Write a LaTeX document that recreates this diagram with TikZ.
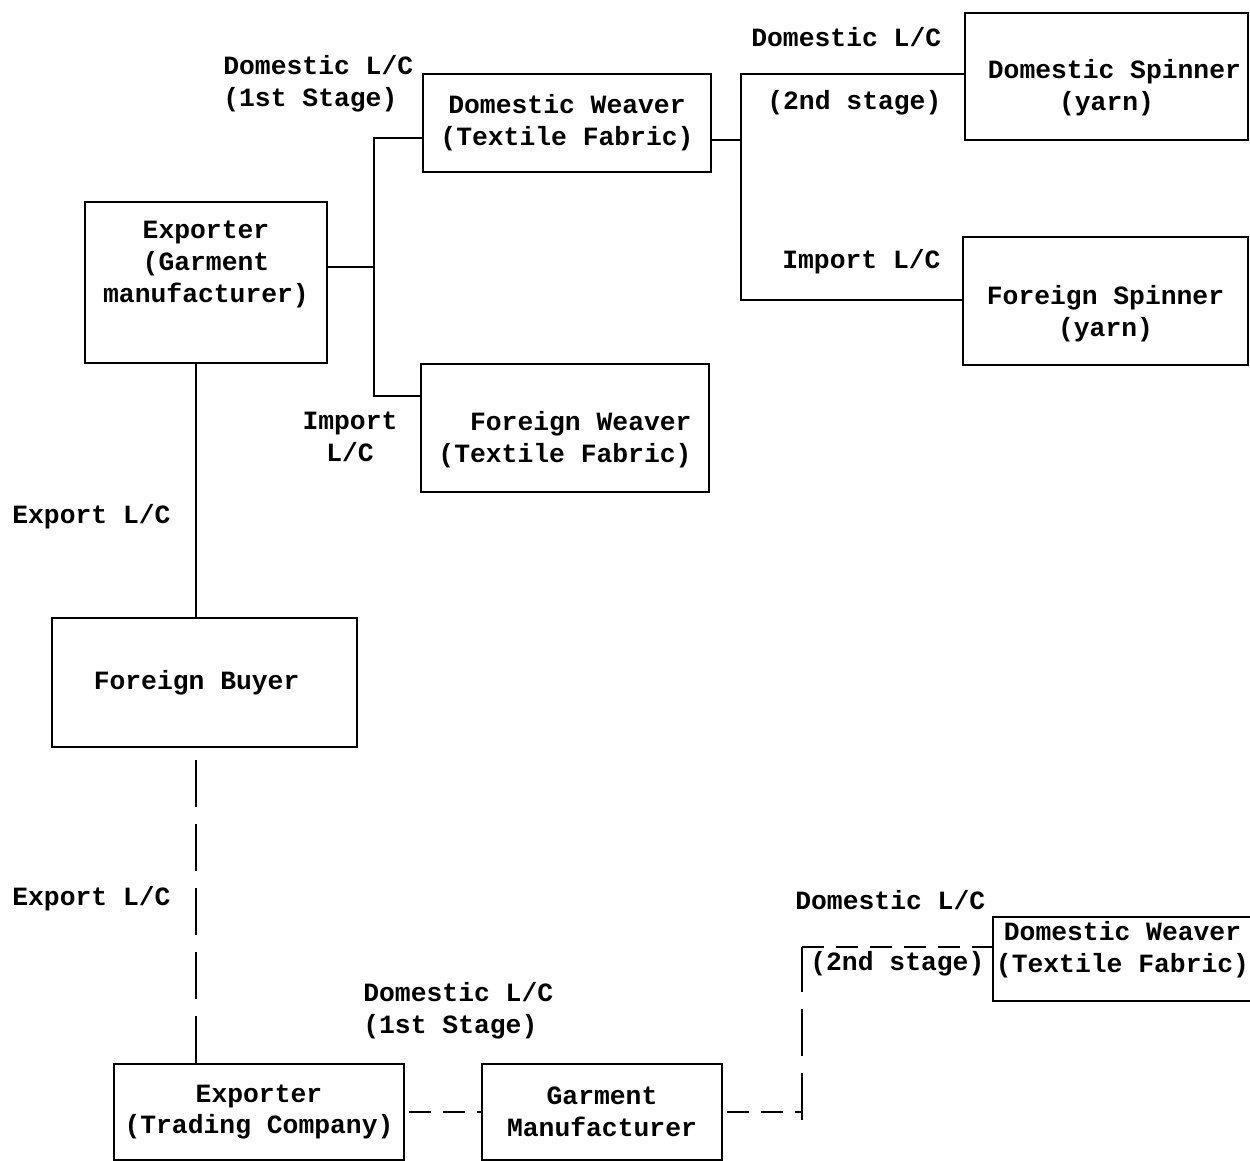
\documentclass[tikz,border=0pt]{standalone}
\usepackage{fontspec}
\setmainfont{Liberation Mono}
\usetikzlibrary{positioning, calc}
\newcommand{\boxtext}[2]{\raisebox{#1}[\height][\depth]{\begin{tabular}{@{}c@{}}#2\end{tabular}}}

\begin{document}
\begin{tikzpicture}[x=0.2mm, y=-0.2mm, font=\fontsize{15}{18.2}\selectfont\bfseries,
  partybox/.style = {draw, line width=1.3pt, align=center, inner sep=0pt},
  lctext/.style = {inner sep=0pt, align=left, anchor=west},
  link/.style = {line width=1.3pt},
  dlinklong/.style = {line width=1.3pt, dash pattern=on 9.4mm off 3.4mm},
  dlinkshort/.style = {line width=1.3pt, dash pattern=on 4.4mm off 2.4mm, dash phase=6mm}
]
\useasboundingbox (0,0) rectangle (1250,1161);
% upper chain
\node[partybox, minimum width=48.4mm, minimum height=32.2mm] (expG) at (206,282.5) {Exporter\\(Garment\\manufacturer)\\ \strut};
\node[partybox, minimum width=57.6mm, minimum height=19.6mm] (dweav) at (567,123) {Domestic Weaver\\(Textile Fabric)};
\node[partybox, minimum width=57.6mm, minimum height=25.6mm] (fweav) at (565,428) {\boxtext{-2.4mm}{\ \ Foreign Weaver\\(Textile Fabric)}};
\node[partybox, minimum width=56.6mm, minimum height=25.4mm] (dspin) at (1106.5,76.5) {\boxtext{-2.4mm}{\ Domestic Spinner\\(yarn)}};
\node[partybox, minimum width=57mm, minimum height=25.6mm] (fspin) at (1105.5,301) {\boxtext{-2.6mm}{Foreign Spinner\\(yarn)}};
\node[partybox, minimum width=61mm, minimum height=25.8mm] (fbuyer) at (204.5,682.5) {Foreign Buyer\ };
% lower chain
\node[partybox, minimum width=58mm, minimum height=19.2mm] (trade) at (259,1112) {Exporter\\(Trading Company)};
\node[partybox, minimum width=48mm, minimum height=19.2mm] (garm) at (602,1112) {Garment\\Manufacturer};
\node[partybox, minimum width=51.8mm, minimum height=16.8mm] (dweav2) at (1122.5,959) {\boxtext{1.8mm}{Domestic Weaver\\(Textile Fabric)}};

\node[lctext] (lc1) at (223,84) {Domestic L/C\\(1st Stage)};
\node[lctext] (lc2) at (751,37) {Domestic L/C};
\node[lctext] (lc2s) at (767,103) {(2nd stage)};
\node[lctext] (imp2) at (782,262) {Import L/C};
\node[lctext, align=center, anchor=center] (imp1) at (350,437) {Import\\L/C};
\node[lctext] (exp1) at (12,517) {Export L/C};
\node[lctext] (exp2) at (12,899) {Export L/C};
\node[lctext] (lc3) at (795,900) {Domestic L/C};
\node[lctext] (lc3s) at (810,964) {(2nd stage)};
\node[lctext] (lc4) at (363,1011) {Domestic L/C\\(1st Stage)};

\coordinate (j1) at (374,267);
\coordinate (j1a) at (374,138);
\coordinate (j1b) at (374,396);
\coordinate (j2) at (741,140);
\coordinate (j2a) at (741,74);
\coordinate (j2b) at (741,300);
\coordinate (eline) at (196,0);
\coordinate (j4) at (802,1120);
\coordinate (j5) at (802,947);

\draw[link] (expG.east |- j1) -- (j1);
\draw[link] (j1a -| dweav.west) -- (j1a) -- (j1b) -- (j1b -| fweav.west);
\draw[link] (dweav.east |- j2) -- (j2);
\draw[link] (j2a -| dspin.west) -- (j2a) -- (j2b) -- (j2b -| fspin.west);
\draw[link] (expG.south -| eline) -- (fbuyer.north -| eline);
\draw[dlinklong] (trade.north -| eline) -- (fbuyer.south -| eline);
\draw[dlinkshort] (trade.east) -- (garm.west);
\draw[dlinkshort] (garm.east) -- (j4 |- garm.east);
\draw[dlinklong] (j4) -- (j5);
\draw[dlinkshort, dash phase=0mm] (j5) -- (j5 -| dweav2.west);
\end{tikzpicture}
\end{document}
